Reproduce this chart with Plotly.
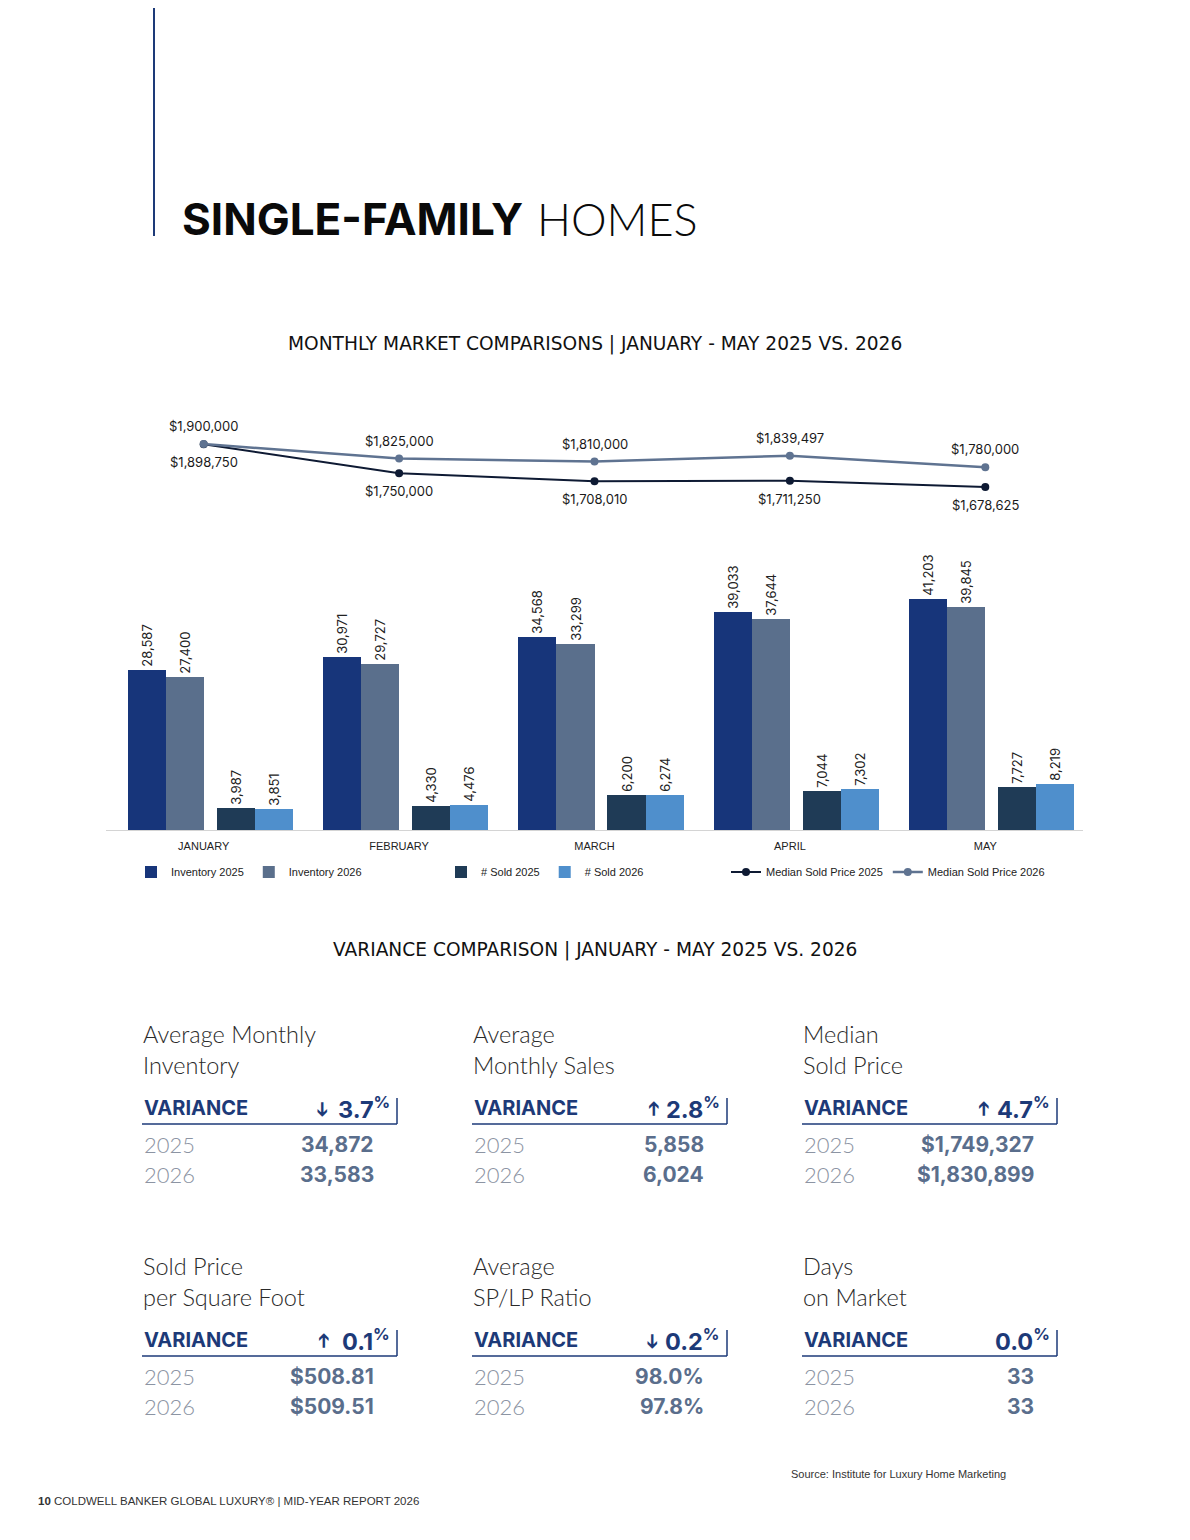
import plotly.graph_objects as go

# page is 1190x1540; the browser body keeps an 8px margin, so the figure is
# drawn 8px in from the top-left corner and positions are given in page pixels
PAGE_OFF = 8
W, H = 1190 - 2 * PAGE_OFF, 1540 - 2 * PAGE_OFF

# chart data
months = ["JANUARY", "FEBRUARY", "MARCH", "APRIL", "MAY"]
inventory_2025 = [28587, 30971, 34568, 39033, 41203]
inventory_2026 = [27400, 29727, 33299, 37644, 39845]
sold_2025 = [3987, 4330, 6200, 7044, 7727]
sold_2026 = [3851, 4476, 6274, 7302, 8219]
median_2025 = [1898750, 1750000, 1708010, 1711250, 1678625]
median_2026 = [1900000, 1825000, 1810000, 1839497, 1780000]

# variance cards
card_titles = ["Average Monthly<br>Inventory", "Average<br>Monthly Sales", "Median<br>Sold Price",
               "Sold Price<br>per Square Foot", "Average<br>SP/LP Ratio", "Days<br>on Market"]
variance_pct = ["3.7", "2.8", "4.7", "0.1", "0.2", "0.0"]
variance_dir = ["down", "up", "up", "up", "down", ""]
card_2025 = ["34,872", "5,858", "$1,749,327", "$508.81", "98.0%", "33"]
card_2026 = ["33,583", "6,024", "$1,830,899", "$509.51", "97.8%", "33"]

NAVY = "#1d3a78"
VALUE = "#5a6e8c"
YEAR = "#8c94a3"


def px(x):
    return (x - PAGE_OFF) / W


def py(y):
    return 1 - (y - PAGE_OFF) / H


fig = go.Figure()
idx = list(range(len(months)))
bw = 0.1945

bars = [
    ("Inventory 2025", inventory_2025, "#17357a", -2 * bw, "legend"),
    ("Inventory 2026", inventory_2026, "#5a6f8c", -bw, "legend"),
    ("# Sold 2025", sold_2025, "#1f3b56", 0.0665, "legend2"),
    ("# Sold 2026", sold_2026, "#4f8fcc", 0.0665 + bw, "legend2"),
]
for name, vals, col, off, leg in bars:
    fig.add_trace(go.Bar(
        x=idx, y=vals, name=name, width=bw, offset=off, marker_color=col,
        marker_line_width=0, texttemplate="%{y:,}", textposition="outside",
        textangle=-90, constraintext="none", cliponaxis=False,
        textfont=dict(family="Inter, Liberation Sans", size=13, color="#222"),
        legend=leg, xaxis="x", yaxis="y",
    ))

fig.add_trace(go.Scatter(
    x=idx, y=median_2025, name="Median Sold Price 2025", mode="lines+markers",
    line=dict(color="#0e1a33", width=2), marker=dict(size=8, color="#0e1a33"),
    legend="legend3", xaxis="x", yaxis="y2", cliponaxis=False,
))
fig.add_trace(go.Scatter(
    x=idx, y=median_2026, name="Median Sold Price 2026", mode="lines+markers",
    line=dict(color="#5f7391", width=2.5), marker=dict(size=8, color="#5f7391"),
    legend="legend3", xaxis="x", yaxis="y2", cliponaxis=False,
))

lab_font = dict(family="Inter, Liberation Sans", size=13, color="#1a1a1a")
for i, v in enumerate(median_2026):
    fig.add_annotation(x=i, y=v, xref="x", yref="y2", text=f"${v:,}", showarrow=False,
                       yshift=18, font=lab_font)
for i, v in enumerate(median_2025):
    fig.add_annotation(x=i, y=v, xref="x", yref="y2", text=f"${v:,}", showarrow=False,
                       yshift=-18, font=lab_font)

# page heading
fig.add_annotation(x=px(180), y=py(219), xref="paper", yref="paper", xanchor="left",
                   yanchor="middle", showarrow=False, text="<b>SINGLE-FAMILY</b>",
                   font=dict(family="Inter", size=44, color="#0a0a0a"))
fig.add_annotation(x=px(535), y=py(219), xref="paper", yref="paper", xanchor="left",
                   yanchor="middle", showarrow=False, text="HOMES",
                   font=dict(family="Lato", size=45, color="#0a0a0a", weight=300))
fig.add_shape(type="line", xref="paper", yref="paper", x0=px(154), x1=px(154),
              y0=py(PAGE_OFF), y1=py(236), line=dict(color=NAVY, width=2))

sub_font = dict(family="DejaVu Sans", size=18.6, color="#111")
fig.add_annotation(x=px(595), y=py(344), xref="paper", yref="paper", showarrow=False,
                   xanchor="center", yanchor="middle",
                   text="MONTHLY MARKET COMPARISONS | JANUARY - MAY 2025 VS. 2026", font=sub_font)
fig.add_annotation(x=px(595), y=py(950), xref="paper", yref="paper", showarrow=False,
                   xanchor="center", yanchor="middle",
                   text="VARIANCE COMPARISON | JANUARY - MAY 2025 VS. 2026", font=sub_font)

# heavy arrow glyph, turned to point up or down
arrow_angle = {"down": 90, "up": -90}
for k in range(len(card_titles)):
    cx = 142 + 330 * (k % 3)
    oy = 232 * (k // 3)
    fig.add_annotation(x=px(cx - 1), y=py(1018 + oy), xref="paper", yref="paper",
                       xanchor="left", yanchor="top", align="left", showarrow=False,
                       text=card_titles[k],
                       font=dict(family="Lato", size=23.5, color="#2a2a2a", weight=300))
    fig.add_annotation(x=px(cx), y=py(1108 + oy), xref="paper", yref="paper", xanchor="left",
                       yanchor="middle", showarrow=False, text="<b>VARIANCE</b>",
                       font=dict(family="Inter", size=20, color=NAVY))
    fig.add_annotation(x=px(cx + 250), y=py(1108 + oy), xref="paper", yref="paper",
                       xanchor="right", yanchor="middle", showarrow=False,
                       text=f"<b>{variance_pct[k]}<sup>%</sup></b>",
                       font=dict(family="Inter", size=23.5, color=NAVY))
    if variance_dir[k]:
        fig.add_annotation(x=px(cx + 181), y=py(1109 + oy), xref="paper", yref="paper",
                           xanchor="center", yanchor="middle", showarrow=False,
                           text="➔", textangle=arrow_angle[variance_dir[k]],
                           font=dict(family="DejaVu Sans", size=20, color=NAVY))
    fig.add_shape(type="line", xref="paper", yref="paper", x0=px(cx), x1=px(cx + 255),
                  y0=py(1124 + oy), y1=py(1124 + oy), line=dict(color=NAVY, width=1.5))
    fig.add_shape(type="line", xref="paper", yref="paper", x0=px(cx + 255), x1=px(cx + 255),
                  y0=py(1098 + oy), y1=py(1124 + oy), line=dict(color=NAVY, width=1.5))
    for j, (yr, vals) in enumerate([("2025", card_2025), ("2026", card_2026)]):
        yy = 1144 + oy + 30 * j
        fig.add_annotation(x=px(cx), y=py(yy), xref="paper", yref="paper", xanchor="left",
                           yanchor="middle", showarrow=False, text=yr,
                           font=dict(family="Lato", size=22, color=YEAR, weight=300))
        fig.add_annotation(x=px(cx + 234), y=py(yy), xref="paper", yref="paper",
                           xanchor="right", yanchor="middle", showarrow=False,
                           text=f"<b>{vals[k]}</b>",
                           font=dict(family="Inter", size=21, color=VALUE))

fig.add_annotation(x=px(1008), y=py(1474), xref="paper", yref="paper", xanchor="right",
                   yanchor="middle", showarrow=False,
                   text="Source: Institute for Luxury Home Marketing",
                   font=dict(family="Liberation Sans", size=11, color="#333"))
fig.add_annotation(x=px(36), y=py(1501), xref="paper", yref="paper", xanchor="left",
                   yanchor="middle", showarrow=False,
                   text="<b>10</b> COLDWELL BANKER GLOBAL LUXURY® | MID-YEAR REPORT 2026",
                   font=dict(family="Liberation Sans", size=11.5, color="#333"))

leg = dict(orientation="h", yanchor="middle", xanchor="left", y=py(872),
           font=dict(family="Liberation Sans", size=11, color="#222"),
           bgcolor="rgba(0,0,0,0)", itemclick=False, itemdoubleclick=False)

fig.update_layout(
    width=W, height=H, margin=dict(l=0, r=0, t=0, b=0),
    paper_bgcolor="white", plot_bgcolor="white", showlegend=True,
    bargap=0,
    xaxis=dict(domain=[px(106), px(1083)], range=[-0.5, 4.5], tickvals=idx, ticktext=months,
               showline=True, linecolor="#d4d4d4", linewidth=1, ticks="", showgrid=False,
               zeroline=False, ticklabelstandoff=6, fixedrange=True,
               tickfont=dict(family="Liberation Sans", size=11, color="#222"), anchor="y"),
    yaxis=dict(domain=[py(830), py(830 - 291.2)], range=[0, 52000], visible=False,
               fixedrange=True),
    yaxis2=dict(domain=[py(502.3), py(424.6)], range=[1600000, 2000000], visible=False,
                anchor="x", fixedrange=True),
    legend=dict(leg, x=px(131)),
    legend2=dict(leg, x=px(441)),
    legend3=dict(leg, x=px(726)),
)

fig.write_html("out.html")
